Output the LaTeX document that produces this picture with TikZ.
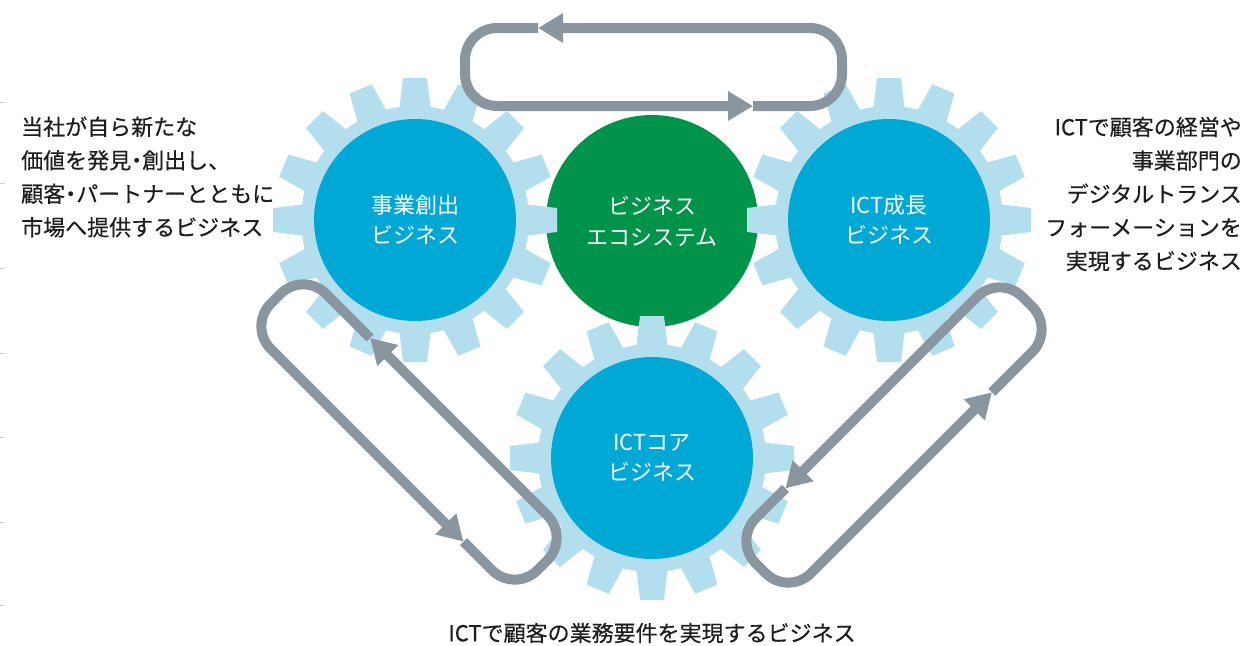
\documentclass[tikz,border=0pt]{standalone}
\usepackage{fontspec}
\setmainfont{Noto Sans CJK JP}
\newfontfamily\sidefont{Noto Sans CJK JP}[FakeBold=0.4]
\usetikzlibrary{arrows.meta}
\definecolor{gearlight}{HTML}{B2DEEE}
\definecolor{geardark}{HTML}{00A9D5}
\definecolor{ecogreen}{HTML}{00934A}
\definecolor{loopgray}{HTML}{8A969F}
\definecolor{txt}{HTML}{1E1E1E}
\newcommand\halfdot{\hbox to 0.5em{\hss・\hss}}
\tikzset{
  loopline/.style={draw=loopgray, line width=10pt, rounded corners=32pt, line cap=butt,
     -{Triangle[length=25pt,width=28pt]}},
  inner/.style={circle, fill=geardark, minimum size=202pt, inner sep=0pt, text=white,
     align=center, font=\fontsize{22}{30}\selectfont},
  side/.style={inner sep=0pt, text=txt, font=\sidefont\fontsize{22}{33.5}\selectfont},
}
\newcommand\gearteeth[2]{%
  \begin{scope}[shift={(#1,#2)}]
    \fill[gearlight] (0,0) circle[radius=114];
    \foreach \a in {0,22.5,...,337.5}{
      \fill[gearlight,rotate=\a] (108,-16) -- (142,-12) -- (142,12) -- (108,16) -- cycle;
    }
  \end{scope}}
\newcommand\looppaths[2]{%
  \draw[loopline] (#1,-39) -- (-188.5,-39) -- (-188.5,39) -- (#2,39);
  \draw[loopline] (#2,39) -- (188.5,39) -- (188.5,-39) -- (#1,-39);}
\begin{document}
\begin{tikzpicture}[x=1pt,y=-1pt]
\fill[white] (0,0) rectangle (1247,645);
\useasboundingbox (0,0) rectangle (1247,645);
% faint margin ticks
\foreach \t in {102,183,268,353,437,522,605}{
  \draw[gray!35, line width=0.8pt] (0,\t) -- (5,\t);
}
% ecosystem circle
\node[circle, fill=ecogreen, minimum size=212pt, inner sep=0pt, text=white, align=center,
      font=\fontsize{22}{31}\selectfont] (eco) at (652,221) {ビジネス\\エコシステム};
% gears
\gearteeth{415}{220}
\gearteeth{889}{220}
\gearteeth{652}{458}
\node[inner] (cre)  at (415,220) {事業創出\\ビジネス};
\node[inner] (grow) at (889,220) {ICT成長\\ビジネス};
\node[inner] (core) at (652,458) {ICTコア\\ビジネス};
% loops
\begin{scope}[shift={(653.5,67)}]
  \looppaths{-115.5}{99.5}
\end{scope}
\begin{scope}[shift={(894,435)}, rotate=45]
  \looppaths{-114.5}{99.5}
\end{scope}
\begin{scope}[shift={(409,432)}, rotate=-45]
  \looppaths{-94}{116}
\end{scope}
% texts
\node[side, anchor=west, align=left] (ltext) at (21,177)
  {当社が自ら新たな\\価値を発見\halfdot 創出し、\\顧客\halfdot パートナーとともに\\市場へ提供するビジネス};
\node[side, anchor=east, align=right] (rtext) at (1242,194)
  {ICTで顧客の経営や\\事業部門の\\デジタルトランス\\フォーメーションを\\実現するビジネス};
\node[side] (btext) at (652,633) {ICTで顧客の業務要件を実現するビジネス};
\end{tikzpicture}
\end{document}
